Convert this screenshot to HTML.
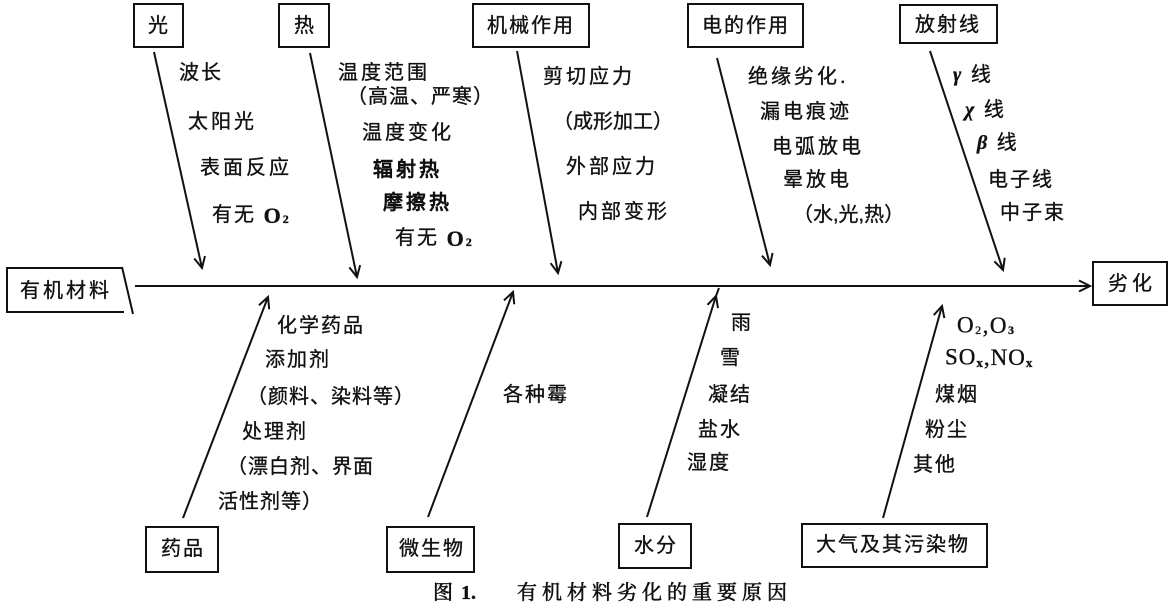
<!DOCTYPE html>
<html><head><meta charset="utf-8"><style>
html,body{margin:0;padding:0;background:#fff;}
svg{display:block;}
text{font-family:"Liberation Sans","Noto Sans CJK SC",sans-serif;fill:#111;stroke:#111;stroke-width:0.35px;}
.l{font-size:20px;letter-spacing:2px;dominant-baseline:central;}
.b{font-size:20px;letter-spacing:2px;dominant-baseline:central;}
.s{font-family:"Liberation Serif",serif;}
</style></head><body>
<svg width="1170" height="612" viewBox="0 0 1170 612" xmlns="http://www.w3.org/2000/svg">
<defs>
<marker id="a" markerWidth="16" markerHeight="16" refX="13" refY="7" orient="auto" markerUnits="userSpaceOnUse">
<path d="M2,1.5 L13,7 L2,12.5" fill="none" stroke="#111" stroke-width="2"/>
</marker>
</defs>
<g fill="none" stroke="#111" stroke-width="2">
<!-- top boxes -->
<rect x="134" y="4" width="49" height="43"/>
<rect x="279" y="4" width="50" height="43"/>
<rect x="473" y="4" width="116" height="43"/>
<rect x="688" y="4" width="115" height="43"/>
<rect x="900" y="5" width="97" height="38"/>
<!-- bottom boxes -->
<rect x="146" y="527" width="72" height="45"/>
<rect x="387" y="527" width="87" height="45"/>
<rect x="619" y="524" width="72" height="44"/>
<rect x="802" y="524" width="185" height="43"/>
<!-- result box -->
<rect x="1093" y="262" width="74" height="43"/>
<!-- start box -->
<polyline points="122,268 7,268 7,312 124,312"/>
<line x1="122" y1="267" x2="133" y2="314"/>
<!-- main line -->
<line x1="135" y1="286" x2="1090" y2="286" marker-end="url(#a)"/>
<!-- top arrows -->
<line x1="154" y1="52" x2="202" y2="268" marker-end="url(#a)"/>
<line x1="310" y1="53" x2="357" y2="277" marker-end="url(#a)"/>
<line x1="517" y1="51" x2="558" y2="273" marker-end="url(#a)"/>
<line x1="717" y1="58" x2="770" y2="265" marker-end="url(#a)"/>
<line x1="930" y1="51" x2="1003" y2="270" marker-end="url(#a)"/>
<!-- bottom arrows -->
<line x1="183" y1="518" x2="268" y2="297" marker-end="url(#a)"/>
<line x1="428" y1="517" x2="513" y2="292" marker-end="url(#a)"/>
<line x1="647" y1="517" x2="716" y2="296" marker-end="url(#a)"/>
<line x1="716" y1="296" x2="719" y2="288"/>
<line x1="883" y1="518" x2="942" y2="306" marker-end="url(#a)"/>
</g>

<!-- box labels -->
<text class="b" x="148" y="26">光</text>
<text class="b" x="294" y="26">热</text>
<text class="b" x="487" y="26">机械作用</text>
<text class="b" x="702" y="26">电的作用</text>
<text class="b" x="915" y="25">放射线</text>
<text class="b" x="20" y="291" style="letter-spacing:3px">有机材料</text>
<text class="b" x="1108" y="284" style="letter-spacing:4px">劣化</text>
<text class="b" x="161" y="549">药品</text>
<text class="b" x="399" y="549">微生物</text>
<text class="b" x="634" y="546">水分</text>
<text class="b" x="816" y="545">大气及其污染物</text>

<!-- 光 -->
<text class="l" x="179" y="73">波长</text>
<text class="l" x="188" y="122" style="letter-spacing:3px">太阳光</text>
<text class="l" x="200" y="168" style="letter-spacing:3px">表面反应</text>
<text class="l" x="212" y="215">有无 <tspan class="s" font-weight="bold" font-size="22">O</tspan><tspan class="s" font-size="12" font-weight="bold" dy="4">2</tspan></text>
<!-- 热 -->
<text class="l" x="338" y="73" style="letter-spacing:3px">温度范围</text>
<text class="l" x="347" y="97" style="letter-spacing:1px">（高温、严寒）</text>
<text class="l" x="362" y="133" style="letter-spacing:3px">温度变化</text>
<text class="l" x="373" y="170" style="letter-spacing:3px;stroke-width:0.9px">辐射热</text>
<text class="l" x="383" y="203" style="letter-spacing:3px;stroke-width:0.9px">摩擦热</text>
<text class="l" x="395" y="238">有无 <tspan class="s" font-weight="bold" font-size="22">O</tspan><tspan class="s" font-size="12" font-weight="bold" dy="4">2</tspan></text>
<!-- 机械 -->
<text class="l" x="543" y="77" style="letter-spacing:3px">剪切应力</text>
<text class="l" x="553" y="122" style="letter-spacing:0px">（成形加工）</text>
<text class="l" x="566" y="167" style="letter-spacing:3px">外部应力</text>
<text class="l" x="578" y="212" style="letter-spacing:3px">内部变形</text>
<!-- 电 -->
<text class="l" x="748" y="77" style="letter-spacing:3px">绝缘劣化.</text>
<text class="l" x="760" y="112" style="letter-spacing:3px">漏电痕迹</text>
<text class="l" x="772" y="147" style="letter-spacing:3px">电弧放电</text>
<text class="l" x="783" y="180" style="letter-spacing:3px">晕放电</text>
<text class="l" x="793" y="215" style="letter-spacing:0px">（水,光,热）</text>
<!-- 放射线 -->
<text class="l" x="953" y="75"><tspan class="s" font-style="italic" font-weight="bold">γ</tspan> 线</text>
<text class="l" x="965" y="110"><tspan class="s" font-style="italic" font-weight="bold">χ</tspan> 线</text>
<text class="l" x="977" y="143"><tspan class="s" font-style="italic" font-weight="bold">β</tspan> 线</text>
<text class="l" x="988" y="180">电子线</text>
<text class="l" x="1000" y="213">中子束</text>
<!-- 药品 -->
<text class="l" x="277" y="326" style="letter-spacing:2px">化学药品</text>
<text class="l" x="265" y="360" style="letter-spacing:2px">添加剂</text>
<text class="l" x="247" y="397" style="letter-spacing:1px">（颜料、染料等）</text>
<text class="l" x="242" y="432" style="letter-spacing:2px">处理剂</text>
<text class="l" x="227" y="467" style="letter-spacing:1px">（漂白剂、界面</text>
<text class="l" x="218" y="502" style="letter-spacing:1px">活性剂等）</text>
<!-- 微生物 -->
<text class="l" x="503" y="395">各种霉</text>
<!-- 水分 -->
<text class="l" x="731" y="323">雨</text>
<text class="l" x="720" y="358">雪</text>
<text class="l" x="708" y="395">凝结</text>
<text class="l" x="698" y="430">盐水</text>
<text class="l" x="687" y="463">湿度</text>
<!-- 大气 -->
<text class="l s" x="957" y="325" style="font-size:23px;letter-spacing:1.5px">O<tspan font-size="12" dy="5">2</tspan><tspan dy="-5">,O</tspan><tspan font-size="12" font-weight="bold" dy="5">3</tspan></text>
<text class="l s" x="945" y="357" style="font-size:23px;letter-spacing:1px">SO<tspan font-size="13" font-weight="bold" dy="5">x</tspan><tspan dy="-5">,NO</tspan><tspan font-size="13" font-weight="bold" dy="5">x</tspan></text>
<text class="l" x="935" y="395">煤烟</text>
<text class="l" x="925" y="430">粉尘</text>
<text class="l" x="913" y="465">其他</text>

<!-- caption -->
<text x="433" y="593" style="font-family:'Liberation Serif','Noto Serif CJK SC',serif;font-size:20px;stroke-width:0.6px;dominant-baseline:central;">图</text>
<text x="461" y="593" style="font-family:'Liberation Serif',serif;font-size:20px;font-weight:bold;dominant-baseline:central;">1.</text>
<text x="517" y="593" style="font-family:'Liberation Serif','Noto Serif CJK SC',serif;font-size:20px;letter-spacing:5px;stroke-width:0.6px;dominant-baseline:central;">有机材料劣化的重要原因</text>
</svg>
</body></html>
